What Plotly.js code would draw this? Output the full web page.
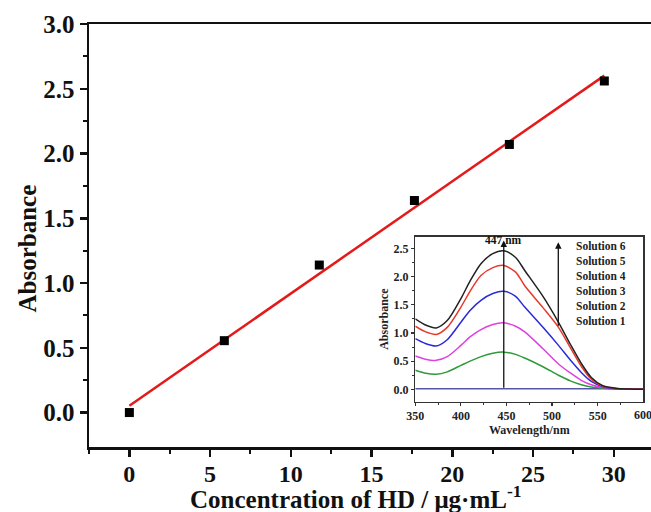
<!DOCTYPE html>
<html>
<head>
<meta charset="utf-8">
<script src="https://cdn.plot.ly/plotly-3.0.1.min.js"></script>
<style>html,body{margin:0;padding:0;background:#fff}#chart{width:651px;height:512px}</style>
</head>
<body>
<div id="chart"></div>
<script>
// Main calibration data
const concentration = [0, 5.88, 11.76, 17.65, 23.53, 29.41];
const absorbance = [0.0, 0.555, 1.139, 1.637, 2.07, 2.56];

// Inset spectra
const wavelength = [350, 360, 373, 385, 400, 410, 422, 435, 447, 460, 470, 490, 507, 520, 532, 543, 555, 570, 585, 600];
const sol6 = [1.25, 1.15, 1.09, 1.22, 1.61, 1.92, 2.23, 2.41, 2.46, 2.34, 2.11, 1.65, 1.19, 0.80, 0.46, 0.21, 0.07, 0.02, 0.005, 0.0];
const sol5 = [1.12, 1.03, 0.975, 1.10, 1.46, 1.74, 2.02, 2.16, 2.20, 2.08, 1.84, 1.45, 1.10, 0.74, 0.41, 0.18, 0.06, 0.015, 0.004, 0.0];
const sol4 = [0.90, 0.82, 0.77, 0.88, 1.19, 1.40, 1.58, 1.70, 1.74, 1.65, 1.46, 1.10, 0.78, 0.52, 0.30, 0.14, 0.05, 0.01, 0.003, 0.0];
const sol3 = [0.59, 0.54, 0.514, 0.58, 0.78, 0.93, 1.06, 1.15, 1.18, 1.12, 1.02, 0.72, 0.45, 0.29, 0.16, 0.08, 0.03, 0.01, 0.002, 0.0];
const sol2 = [0.337, 0.29, 0.266, 0.31, 0.425, 0.50, 0.58, 0.64, 0.66, 0.62, 0.555, 0.40, 0.25, 0.15, 0.08, 0.04, 0.02, 0.005, 0.001, 0.0];
const sol1 = [0.01, 0.01, 0.01, 0.01, 0.01, 0.01, 0.01, 0.01, 0.01, 0.01, 0.01, 0.01, 0.01, 0.01, 0.01, 0.01, 0.01, 0.01, 0.01, 0.01];
const solutionNames = ["Solution 6", "Solution 5", "Solution 4", "Solution 3", "Solution 2", "Solution 1"];
const peakWavelength = 447;

// Linear fit from data
const n = concentration.length;
const mx = concentration.reduce((a,b)=>a+b,0)/n;
const my = absorbance.reduce((a,b)=>a+b,0)/n;
let sxy=0, sxx=0;
for (let i=0;i<n;i++){ sxy += (concentration[i]-mx)*(absorbance[i]-my); sxx += (concentration[i]-mx)**2; }
const slope = sxy/sxx, intercept = my - slope*mx;
const fitX = [concentration[0], concentration[n-1]];
const fitY = fitX.map(x => intercept + slope*x);

const serif = "Liberation Serif, Times New Roman, serif";

const spectra = [
  {y: sol1, color: "#5656a8"},
  {y: sol2, color: "#2e9a3a"},
  {y: sol3, color: "#e040e0"},
  {y: sol4, color: "#2a2ad8"},
  {y: sol5, color: "#e83a2a"},
  {y: sol6, color: "#222222"}
];

const traces = [
  {x: fitX, y: fitY, mode: "lines", line: {color: "#e41a1a", width: 2.5}, xaxis: "x", yaxis: "y", hoverinfo: "skip"},
  {x: concentration, y: absorbance, mode: "markers", marker: {symbol: "square", size: 9, color: "#000"}, xaxis: "x", yaxis: "y"}
];
spectra.forEach(s => traces.push({
  x: wavelength, y: s.y, mode: "lines", line: {color: s.color, width: 1.5, shape: "spline", smoothing: 0.8}, xaxis: "x2", yaxis: "y2"
}));

const insetFont = {family: serif, size: 12, color: "#222", weight: "bold"};

const annotations = [
  {xref: "paper", yref: "paper", x: 0.475, y: -0.118, xanchor: "center", yanchor: "middle", showarrow: false,
   text: "Concentration of HD / μg·mL<sup>-1</sup>", font: {family: serif, size: 25, color: "#111", weight: "bold"}},
  {xref: "paper", yref: "paper", x: -0.1094, y: 0.468, xanchor: "center", yanchor: "middle", showarrow: false, textangle: -90,
   text: "Absorbance", font: {family: serif, size: 25, color: "#111", weight: "bold"}},
  {xref: "x2", yref: "y2", axref: "x2", ayref: "y2", x: peakWavelength, y: 2.64, ax: peakWavelength, ay: 0.0,
   showarrow: true, arrowhead: 2, arrowsize: 1, arrowwidth: 1.3, arrowcolor: "#111", text: ""},
  {xref: "x2", yref: "y2", x: peakWavelength, y: 2.66, xanchor: "center", yanchor: "middle", showarrow: false,
   text: peakWavelength + " nm", font: {family: serif, size: 11.5, color: "#111", weight: "bold"}},
  {xref: "x2", yref: "y2", axref: "x2", ayref: "y2", x: 506.8, y: 2.61, ax: 506.8, ay: 1.1,
   showarrow: true, arrowhead: 2, arrowsize: 1, arrowwidth: 1.3, arrowcolor: "#111", text: ""},
  {xref: "x2", yref: "y2 domain", x: 600, y: 0, yshift: -4, xanchor: "center", yanchor: "top", showarrow: false,
   text: "600", font: insetFont}
];
solutionNames.forEach((name, i) => annotations.push({
  xref: "x2", yref: "y2", x: 524, y: 2.54 - i*0.264, xanchor: "left", yanchor: "middle", showarrow: false,
  text: name, font: {family: serif, size: 11.5, color: "#222", weight: "bold"}
}));

const layout = {
  width: 651, height: 512,
  margin: {l: 89, r: 0, t: 24, b: 65},
  paper_bgcolor: "#fff", plot_bgcolor: "rgba(0,0,0,0)",
  showlegend: false,
  font: {family: serif, color: "#111", weight: "bold"},
  xaxis: {
    domain: [0, 1], range: [-2.5, 32.3], tickvals: [0,5,10,15,20,25,30], ticktext: ["0","5","10","15","20","25","30"],
    showgrid: false, zeroline: false, showline: true, linecolor: "#111", linewidth: 2.5, mirror: true,
    ticks: "outside", ticklen: 7, tickwidth: 2.5, tickcolor: "#111", ticklabelstandoff: -3,
    minor: {tickvals: [-2.5, 2.5, 7.5, 12.5, 17.5, 22.5, 27.5], ticks: "outside", ticklen: 4, tickwidth: 2, tickcolor: "#111"},
    tickfont: {family: serif, size: 24, color: "#111", weight: "bold"}
  },
  yaxis: {
    domain: [0, 1], range: [-0.266, 3.0], tickvals: [0,0.5,1,1.5,2,2.5,3], ticktext: ["0.0","0.5","1.0","1.5","2.0","2.5","3.0"],
    showgrid: false, zeroline: false, showline: true, linecolor: "#111", linewidth: 2.5,
    ticks: "outside", ticklen: 7, tickwidth: 2.5, tickcolor: "#111",
    minor: {tickvals: [0.25,0.75,1.25,1.75,2.25,2.75], ticks: "outside", ticklen: 4, tickwidth: 2, tickcolor: "#111"},
    tickfont: {family: serif, size: 25, color: "#111", weight: "bold"}
  },
  xaxis2: {
    domain: [0.5806, 0.9863], anchor: "y2", range: [350, 600], tickvals: [350, 400, 450, 500, 550],
    showgrid: false, zeroline: false, showline: true, linecolor: "#333", linewidth: 1.3, mirror: true,
    ticks: "outside", ticklen: 3, tickwidth: 1.2, tickcolor: "#333",
    minor: {tickvals: [375, 425, 475, 525, 575], ticks: "outside", ticklen: 2, tickwidth: 1, tickcolor: "#333"},
    tickfont: insetFont,
    title: {text: "Wavelength/nm", font: insetFont, standoff: 2}
  },
  yaxis2: {
    domain: [0.1071, 0.4972], anchor: "x2", range: [-0.22, 2.71], tickvals: [0,0.5,1,1.5,2,2.5], ticktext: ["0.0","0.5","1.0","1.5","2.0","2.5"],
    showgrid: false, zeroline: false, showline: true, linecolor: "#333", linewidth: 1.3, mirror: true,
    ticks: "outside", ticklen: 3, tickwidth: 1.2, tickcolor: "#333",
    minor: {tickvals: [0.25,0.75,1.25,1.75,2.25], ticks: "outside", ticklen: 2, tickwidth: 1, tickcolor: "#333"},
    tickfont: insetFont,
    title: {text: "Absorbance", font: insetFont, standoff: 2}
  },
  shapes: [
    {type: "rect", xref: "x2 domain", yref: "y2 domain", x0: 0, x1: 1, y0: 0, y1: 1, fillcolor: "#fff", line: {width: 0}, layer: "below"}
  ],
  annotations: annotations
};

Plotly.newPlot("chart", traces, layout, {displayModeBar: false, staticPlot: true});
</script>
</body>
</html>
